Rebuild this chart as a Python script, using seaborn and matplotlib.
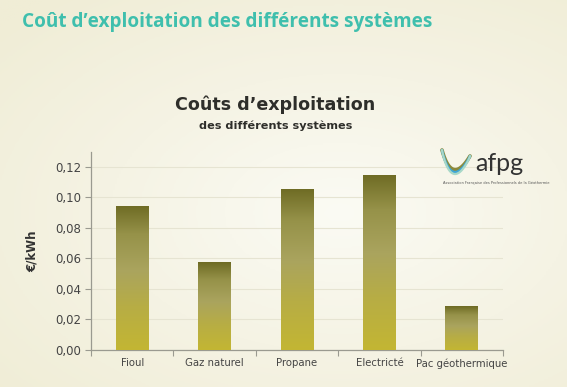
import numpy as np
import pandas as pd
import matplotlib
matplotlib.use("Agg")
import matplotlib.pyplot as plt
from matplotlib.colors import LinearSegmentedColormap
import seaborn as sns

# data
systemes = ["Fioul", "Gaz naturel", "Propane", "Electricté", "Pac géothermique"]
couts = [0.0945, 0.0575, 0.1055, 0.1145, 0.0285]
yticks = [0.00, 0.02, 0.04, 0.06, 0.08, 0.10, 0.12]
ytick_labels = ["0,00", "0,02", "0,04", "0,06", "0,08", "0,10", "0,12"]

df = pd.DataFrame({"systeme": systemes, "cout": couts})

sns.set_theme(style="white")
plt.rcParams["font.family"] = ["DejaVu Sans"]

W, H = 567, 387
fig = plt.figure(figsize=(W / 100, H / 100), dpi=100)

# slide background, lighter in the middle
bg = fig.add_axes([0, 0, 1, 1], zorder=-10)
yy, xx = np.mgrid[0:1:200j, 0:1:300j]
r = np.sqrt(((xx - 0.6) / 0.9) ** 2 + ((yy - 0.55) / 0.8) ** 2)
bg_cmap = LinearSegmentedColormap.from_list("bg", ["#fbfbf4", "#f5f3e4", "#f0edd6"])
bg.imshow(r, cmap=bg_cmap, aspect="auto", extent=[0, 1, 0, 1], vmin=0, vmax=0.9)
bg.axis("off")

ax = fig.add_axes([91 / W, 1 - 350 / H, 412 / W, 198 / H])
ax.set_facecolor("none")
sns.barplot(data=df, x="systeme", y="cout", ax=ax, width=0.4, color="#b8ae40",
            edgecolor="none", saturation=1)

# gradient fill for each bar
bar_cmap = LinearSegmentedColormap.from_list(
    "bar", [(0, "#c3b633"), (0.3, "#b7ad45"), (0.55, "#aaa45e"),
            (0.8, "#969249"), (1, "#6e6b24")])
grad = np.linspace(0, 1, 256).reshape(-1, 1)
for p in ax.patches:
    x0, y0 = p.get_x(), p.get_y()
    w, h = p.get_width(), p.get_height()
    im = ax.imshow(grad, cmap=bar_cmap, origin="lower", aspect="auto",
                   extent=[x0, x0 + w, y0, y0 + h], zorder=3)
    im.set_clip_path(p)

ax.set_xlim(-0.5, len(systemes) - 0.5)
ax.set_ylim(0, 0.1295)
ax.set_yticks(yticks)
ax.set_yticklabels(ytick_labels)
ax.set_xlabel("")
ax.set_ylabel("€/kWh", fontsize=8.5, fontweight="bold", color="#333333", labelpad=12)

ax.grid(axis="y", color="#e6e4d2", linewidth=0.8)
ax.set_axisbelow(True)
for s in ["top", "right"]:
    ax.spines[s].set_visible(False)
for s in ["left", "bottom"]:
    ax.spines[s].set_color("#9a9a90")
    ax.spines[s].set_linewidth(0.9)

ax.tick_params(axis="y", which="major", length=4, width=0.8, color="#9a9a90",
               labelsize=8.5, labelcolor="#444444", pad=3, left=True)
ax.tick_params(axis="x", which="major", length=0, labelsize=7.3,
               labelcolor="#444444", pad=6)
ax.set_xticks(np.arange(-0.5, len(systemes)), minor=True)
ax.tick_params(axis="x", which="minor", length=4, width=0.8, color="#9a9a90",
               bottom=True)

# slide title and chart titles
fig.text(22 / W, 1 - 22 / H, "Coût d’exploitation des différents systèmes",
         fontsize=13.7, fontweight="bold", color="#3fbfad", va="center",
         ha="left", family=["Open Sans", "DejaVu Sans"])
fig.text(275 / W, 1 - 105 / H, "Coûts d’exploitation", fontsize=12.6,
         fontweight="bold", color="#2e2e2a", ha="center", va="center")
fig.text(276 / W, 1 - 126 / H, "des différents systèmes", fontsize=8.1,
         fontweight="bold", color="#2e2e2a", ha="center", va="center")

# afpg logo
lg = fig.add_axes([435 / W, 1 - 190 / H, 110 / W, 50 / H])
lg.set_xlim(0, 110)
lg.set_ylim(50, 0)
lg.axis("off")
t = np.linspace(0, 1, 80)
p0, p1, p2 = np.array([7, 10]), np.array([17, 46]), np.array([35, 16])
bx = (1 - t) ** 2 * p0[0] + 2 * t * (1 - t) * p1[0] + t ** 2 * p2[0]
by = (1 - t) ** 2 * p0[1] + 2 * t * (1 - t) * p1[1] + t ** 2 * p2[1]
for off, col, lw in [(0, "#8c8a3c", 2.6), (2.4, "#3ea6d6", 1.8), (4.4, "#a8d8c8", 1.6)]:
    lg.plot(bx, by + off * np.sin(np.pi * t) ** 0.6, color=col, lw=lw,
            solid_capstyle="round")
lg.text(40, 23, "afpg", fontsize=18, color="#333333", va="center", ha="left",
        family=["Lato", "DejaVu Sans"])
lg.text(8, 43, "Association Française des Professionnels de la Géothermie",
        fontsize=2.6, color="#555555", va="center", ha="left")

fig.savefig("out.png", dpi=100)
